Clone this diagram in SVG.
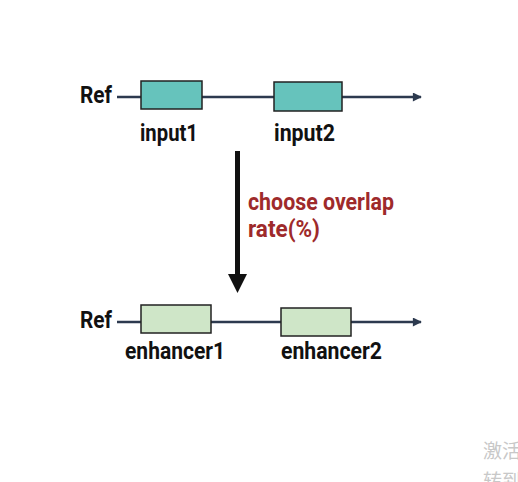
<svg xmlns="http://www.w3.org/2000/svg" width="518" height="482" viewBox="0 0 518 482">
<style>
.t{font-family:Roboto,"Liberation Sans",sans-serif;font-weight:bold;fill:#111;font-size:23px}
.lbl{font-family:Roboto,"Liberation Sans",sans-serif;font-weight:bold;fill:#111;font-size:24px}
.red{font-family:Roboto,"Liberation Sans",sans-serif;font-weight:bold;fill:#9e2a2b;font-size:24px}
.ln{stroke:#2d3a4f;stroke-width:2.5;fill:none}
.in{fill:#66c3bc;stroke:#222;stroke-width:1.5}
.en{fill:#cfe6c8;stroke:#222;stroke-width:1.5}
.wm{font-family:"Noto Sans CJK SC",sans-serif;fill:#c8c8c8;font-size:19px}
</style>
<defs>
<marker id="ah" viewBox="0 0 10 10" refX="9" refY="5" markerWidth="15" markerHeight="9" markerUnits="userSpaceOnUse" orient="auto">
<path d="M0,0 L10,5 L0,10 Z" fill="#2d3a4f"/>
</marker>
</defs>
<rect width="518" height="482" fill="#fff"/>
<g id="connectors">
<line class="ln" x1="117" y1="97" x2="421" y2="97" marker-end="url(#ah)"/>
<line class="ln" x1="117" y1="322" x2="421" y2="322" marker-end="url(#ah)"/>
<line x1="237.5" y1="151" x2="237.5" y2="276" stroke="#111" stroke-width="5"/>
<path d="M228,274 L247,274 L237.5,293 Z" fill="#111"/>
</g>
<g id="ref1"><text class="t" x="80" y="103" textLength="32" lengthAdjust="spacingAndGlyphs">Ref</text></g>
<g id="input1"><rect class="in" x="141" y="81" width="61" height="28"/><text class="lbl" x="140" y="141" textLength="58" lengthAdjust="spacingAndGlyphs">input1</text></g>
<g id="input2"><rect class="in" x="274" y="82" width="68" height="29"/><text class="lbl" x="274" y="141" textLength="61" lengthAdjust="spacingAndGlyphs">input2</text></g>
<g id="label"><text class="red" x="248" y="210" textLength="146" lengthAdjust="spacingAndGlyphs">choose overlap</text><text class="red" x="248" y="237" textLength="72" lengthAdjust="spacingAndGlyphs">rate(%)</text></g>
<g id="ref2"><text class="t" x="80" y="328" textLength="32" lengthAdjust="spacingAndGlyphs">Ref</text></g>
<g id="enhancer1"><rect class="en" x="141" y="305" width="70" height="28"/><text class="lbl" x="125" y="359" textLength="100" lengthAdjust="spacingAndGlyphs">enhancer1</text></g>
<g id="enhancer2"><rect class="en" x="281" y="308" width="70" height="28"/><text class="lbl" x="281" y="359" textLength="101" lengthAdjust="spacingAndGlyphs">enhancer2</text></g>
<g id="watermark"><text class="wm" x="483" y="458">激活</text><text class="wm" x="483" y="488" font-size="15">转到</text></g>
</svg>
